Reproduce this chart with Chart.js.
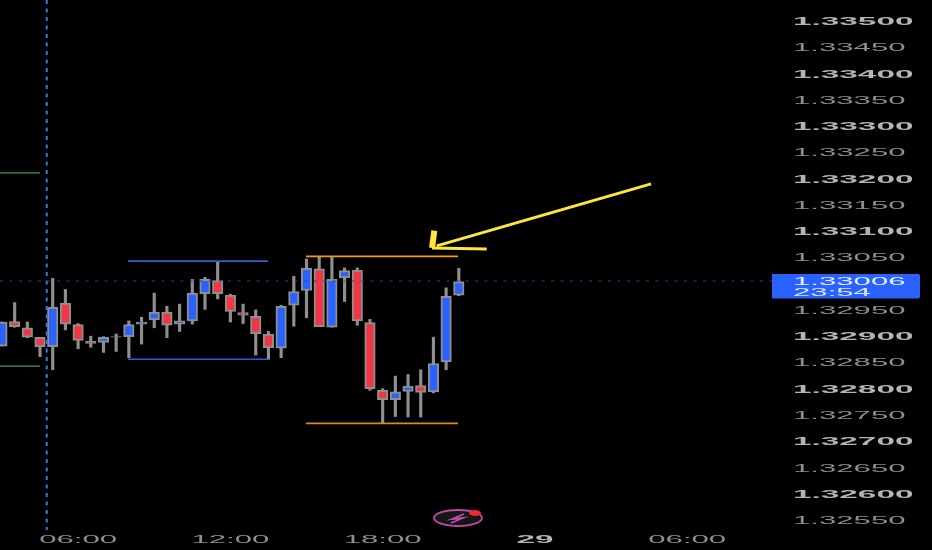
<!DOCTYPE html>
<html>
<head>
<meta charset="utf-8">
<style>
  html, body { margin: 0; background: #000; }
  canvas { display: block; }
</style>
<script src="https://cdn.jsdelivr.net/npm/chart.js@4/dist/chart.umd.min.js"></script>
</head>
<body>
<canvas id="chart" width="932" height="550"></canvas>
<script>
const opens = [1.32881, 1.32928, 1.32916, 1.32898, 1.32880, 1.32963, 1.32922, 1.32890, 1.32888, 1.32898, 1.32899, 1.32923, 1.32931, 1.32946, 1.32923, 1.32929, 1.32981, 1.33006, 1.32978, 1.32945, 1.32938, 1.32904, 1.32877, 1.32959, 1.32987, 1.33028, 1.32917, 1.33011, 1.33026, 1.32926, 1.32797, 1.32779, 1.32795, 1.32806, 1.32794, 1.32851, 1.32978];
const closes = [1.32927, 1.32918, 1.32898, 1.32880, 1.32955, 1.32923, 1.32892, 1.32886, 1.32898, 1.32899, 1.32922, 1.32927, 1.32946, 1.32921, 1.32929, 1.32982, 1.33008, 1.32981, 1.32947, 1.32940, 1.32905, 1.32878, 1.32957, 1.32985, 1.33029, 1.32918, 1.33008, 1.33025, 1.32929, 1.32800, 1.32779, 1.32794, 1.32805, 1.32793, 1.32848, 1.32976, 1.33004];
const highs = [1.32927, 1.32964, 1.32927, 1.32898, 1.33010, 1.32989, 1.32924, 1.32900, 1.32899, 1.32904, 1.32929, 1.32936, 1.32982, 1.32957, 1.32961, 1.33008, 1.33012, 1.33042, 1.32980, 1.32961, 1.32950, 1.32909, 1.32959, 1.33014, 1.33047, 1.33051, 1.33051, 1.33030, 1.33030, 1.32932, 1.32800, 1.32824, 1.32827, 1.32836, 1.32898, 1.32992, 1.33029];
const lows = [1.32881, 1.32917, 1.32897, 1.32861, 1.32836, 1.32912, 1.32876, 1.32879, 1.32869, 1.32871, 1.32859, 1.32885, 1.32916, 1.32897, 1.32909, 1.32923, 1.32951, 1.32971, 1.32927, 1.32924, 1.32864, 1.32856, 1.32859, 1.32919, 1.32935, 1.32918, 1.32917, 1.32966, 1.32921, 1.32797, 1.32734, 1.32747, 1.32746, 1.32746, 1.32792, 1.32836, 1.32977];
const firstSlot = -4;

const priceLabels = ['1.33500', '1.33450', '1.33400', '1.33350', '1.33300', '1.33250', '1.33200', '1.33150', '1.33100', '1.33050', '1.33000', '1.32950', '1.32900', '1.32850', '1.32800', '1.32750', '1.32700', '1.32650', '1.32600', '1.32550'];
const timeSlots = [2, 14, 26, 38, 50];
const timeLabels = ['06:00', '12:00', '18:00', '29', '06:00'];

const lastPrice = 1.33006;
const priceLine = 1.33005;
const countdown = '23:54';

const blueRangeX = [5.93, 16.97];
const blueHigh = 1.33043;
const blueLow = 1.32856;
const orangeRangeX = [19.96, 31.94];
const orangeHigh = 1.33052;
const orangeLow = 1.32734;
const greenX = [-4.2, -1];
const greenHigh = 1.33211;
const greenLow = 1.32843;
const sessionSlot = -0.47;

const arrowShaftX = [47.15, 30.26];
const arrowShaftY = [1.33190, 1.33072];
const arrowHeadX = [30.07, 29.89, 34.2];
const arrowHeadY = [1.33101, 1.33068, 1.33066];

const xMin = -4.153;
const xMax = 56.68;
const yMax = 1.3354;
const yMin = 1.32531;

const slots = opens.map((_, i) => i + firstSlot);
const toPoints = (xs, ys) => xs.map((x, i) => ({ x: x, y: ys[i] }));
const flat = (xs, y) => toPoints(xs, xs.map(() => y));

function overlay(data, color, width, dash) {
    return {
        type: 'line',
        data: data,
        borderColor: color,
        borderWidth: width,
        borderDash: dash || [],
        pointRadius: 0,
        tension: 0,
        order: 0,
    };
}

function stretchedText(ctx, text, x, y, bold, color) {
    ctx.save();
    ctx.font = (bold ? 'bold ' : '') + '11px "Liberation Sans"';
    ctx.fillStyle = color;
    ctx.textBaseline = 'middle';
    ctx.translate(x, y);
    ctx.scale(bold ? 3.03 : 2.83, 1);
    ctx.fillText(text, 0, 0);
    ctx.restore();
}

function stretchedWidth(ctx, text, bold) {
    ctx.font = (bold ? 'bold ' : '') + '11px "Liberation Sans"';
    return ctx.measureText(text).width * (bold ? 3.03 : 2.83);
}

// price axis, time axis, last price tag and the small logo
const decorations = {
    id: 'decorations',
    afterDraw(chart) {
        const ctx = chart.ctx;
        const yScale = chart.scales.y;
        const xScale = chart.scales.x;

        priceLabels.forEach((label, i) => {
            const y = yScale.getPixelForValue(parseFloat(label));
            const bold = i % 2 === 0;
            if (label === '1.33000') return;
            stretchedText(ctx, label, 793, y + 1, bold, bold ? '#b4b4b4' : '#8e8e8e');
        });

        timeLabels.forEach((label, i) => {
            const x = xScale.getPixelForValue(timeSlots[i]);
            const bold = label === '29';
            const w = stretchedWidth(ctx, label, bold);
            stretchedText(ctx, label, x - w / 2, 540, bold, bold ? '#b4b4b4' : '#8e8e8e');
        });

        const tagY = yScale.getPixelForValue(lastPrice);
        ctx.fillStyle = '#2962ff';
        ctx.beginPath();
        ctx.roundRect(772, tagY - 6.5, 148, 24.5, [0, 2, 2, 0]);
        ctx.fill();
        stretchedText(ctx, lastPrice.toFixed(5), 793, tagY + 1, false, '#e8eeff');
        stretchedText(ctx, countdown, 793, tagY + 12, false, '#dbe4ff');

        ctx.save();
        ctx.beginPath();
        ctx.ellipse(458, 518, 24, 8, 0, 0, Math.PI * 2);
        ctx.fillStyle = '#161616';
        ctx.fill();
        ctx.lineWidth = 1.8;
        ctx.strokeStyle = '#bd4aa6';
        ctx.stroke();
        ctx.beginPath();
        ctx.moveTo(464, 514);
        ctx.lineTo(452, 519);
        ctx.lineTo(463, 518);
        ctx.lineTo(451, 523);
        ctx.stroke();
        ctx.beginPath();
        ctx.ellipse(475, 513, 6, 3, 0, 0, Math.PI * 2);
        ctx.fillStyle = '#f02b2b';
        ctx.fill();
        ctx.restore();
    },
};

new Chart(document.getElementById('chart'), {
    type: 'bar',
    data: {
        datasets: [
            overlay(flat([xMin, xMax], priceLine), '#24458f', 1, [3, 6.5]),
            overlay(toPoints([sessionSlot, sessionSlot], [yMax, yMin]), '#2f7be0', 2, [4, 4.5]),
            overlay(flat(blueRangeX, blueHigh), '#2a5fd8', 1.7),
            overlay(flat(blueRangeX, blueLow), '#2a5fd8', 1.6),
            overlay(flat(orangeRangeX, orangeHigh), '#f59a0c', 1.7),
            overlay(flat(orangeRangeX, orangeLow), '#e08a10', 1.7),
            overlay(flat(greenX, greenHigh), '#2f6b45', 1.7),
            overlay(flat(greenX, greenLow), '#2f6b45', 1.7),
            overlay(toPoints(arrowShaftX, arrowShaftY), '#ffe63a', 3),
            overlay(toPoints(arrowHeadX.slice(0, 2), arrowHeadY.slice(0, 2)), '#ffe63a', 6),
            overlay(toPoints(arrowHeadX.slice(1), arrowHeadY.slice(1)), '#ffe63a', 3),
            {
                data: slots.map((x, i) => ({ x: x, y: [opens[i], closes[i]] })),
                backgroundColor: opens.map((o, i) => (closes[i] >= o ? '#2962ff' : '#f23645')),
                borderColor: '#8f8f8f',
                borderWidth: 2,
                borderSkipped: false,
                barThickness: 10.5,
                grouped: false,
                order: 1,
            },
            {
                data: slots.map((x, i) => ({ x: x, y: [lows[i], highs[i]] })),
                backgroundColor: '#8f8f8f',
                barThickness: 2.5,
                grouped: false,
                order: 2,
            },
        ],
    },
    options: {
        responsive: false,
        animation: false,
        devicePixelRatio: 1,
        layout: { padding: 0 },
        plugins: {
            legend: { display: false },
            tooltip: { enabled: false },
        },
        scales: {
            x: {
                type: 'linear',
                offset: false,
                min: xMin,
                max: xMax,
                grid: { display: false },
                border: { display: false },
                ticks: { display: false },
                afterBuildTicks(scale) {
                    scale.ticks = timeSlots.map(v => ({ value: v }));
                },
                afterFit(scale) {
                    scale.height = 20;
                },
            },
            y: {
                position: 'right',
                min: yMin,
                max: yMax,
                grid: { display: false },
                border: { display: false },
                ticks: { display: false },
                afterBuildTicks(scale) {
                    scale.ticks = priceLabels.map(l => ({ value: parseFloat(l) }));
                },
                afterFit(scale) {
                    scale.width = 160;
                },
            },
        },
    },
    plugins: [decorations],
});
</script>
</body>
</html>
